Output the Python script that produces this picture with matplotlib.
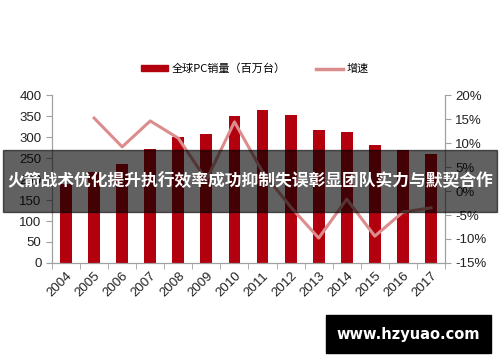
import numpy as np
import matplotlib
matplotlib.use('Agg')
import matplotlib.pyplot as plt
from matplotlib.patches import Rectangle
from matplotlib.lines import Line2D

plt.rcParams['font.family'] = ['Liberation Sans', 'Noto Sans CJK SC', 'DejaVu Sans']

# Data
years = ['2004', '2005', '2006', '2007', '2008', '2009', '2010',
         '2011', '2012', '2013', '2014', '2015', '2016', '2017']
shipments = [188, 217, 236, 271, 300, 307, 350, 364, 352, 317, 312, 281, 269, 260]
growth = [None, 15.2, 9.2, 14.6, 11.0, 2.3, 14.4, 4.0, -3.3, -9.8, -1.7, -9.4, -4.4, -3.5]

bar_color = '#B2000F'
line_color = '#DC8C8C'
spine_color = '#A0A0A0'

fig = plt.figure(figsize=(5, 3.62), dpi=100)
ax = fig.add_axes([0.104, 0.2735, 0.786, 0.464])
x = np.arange(len(years))
ax.bar(x, shipments, width=0.42, color=bar_color, zorder=2)
ax.set_xlim(-0.5, len(years) - 0.5)
ax.set_ylim(0, 400)
ax.set_yticks(range(0, 401, 50))
ax.set_xticks(x)
ax.set_xticklabels(years, rotation=45, ha='right', rotation_mode='anchor')
ax.set_xticks(np.arange(-0.5, len(years), 1), minor=True)

ax2 = ax.twinx()
gx = [i for i, g in zip(x, growth) if g is not None]
gy = [g for g in growth if g is not None]
ax2.plot(gx, gy, color=line_color, lw=2.2, zorder=3)
ax2.set_ylim(-15, 20)
ax2.set_yticks(range(-15, 21, 5))
ax2.set_yticklabels([f'{v}%' for v in range(-15, 21, 5)])

for a in (ax, ax2):
    a.spines['top'].set_visible(False)
    for s in ('left', 'right', 'bottom'):
        a.spines[s].set_color(spine_color)
    a.tick_params(labelsize=9.5, color=spine_color, length=4, colors='#222222')
ax.tick_params(axis='x', which='major', length=0, pad=5)
ax.tick_params(axis='x', which='minor', length=4, color=spine_color)

handles = [Rectangle((0, 0), 1, 1, color=bar_color),
           Line2D([0], [0], color=line_color, lw=2.5)]
fig.legend(handles, ['全球PC销量（百万台）', '增速'], loc='center',
           bbox_to_anchor=(0.51, 0.81), ncol=2, frameon=False,
           prop={'family': ['Noto Sans CJK SC', 'DejaVu Sans'], 'size': 8},
           handlelength=2.4, handleheight=0.5, columnspacing=2.8, handletextpad=0.3)

# Banner overlay
fig.patches.append(Rectangle((0.006, 1 - 212 / 362), 0.988, 62 / 362,
                             transform=fig.transFigure, color='black',
                             alpha=0.62, zorder=10))
fig.text(0.5, 1 - 181 / 362, '火箭战术优化提升执行效率成功抑制失误彰显团队实力与默契合作',
         ha='center', va='center', color='white', fontsize=12.1,
         fontweight='bold', family=['Noto Sans CJK SC', 'DejaVu Sans'], zorder=11)

# Watermark box
fig.patches.append(Rectangle((326 / 500, 1 - 353 / 362), 165 / 500, 38 / 362,
                             transform=fig.transFigure, color='black', zorder=10))
fig.text(408.5 / 500, 1 - 334 / 362, 'www.hzyuao.com', ha='center', va='center',
         color='white', fontsize=10.5, fontweight='bold', family='DejaVu Sans', zorder=11)

fig.savefig('out.png', dpi=100)
